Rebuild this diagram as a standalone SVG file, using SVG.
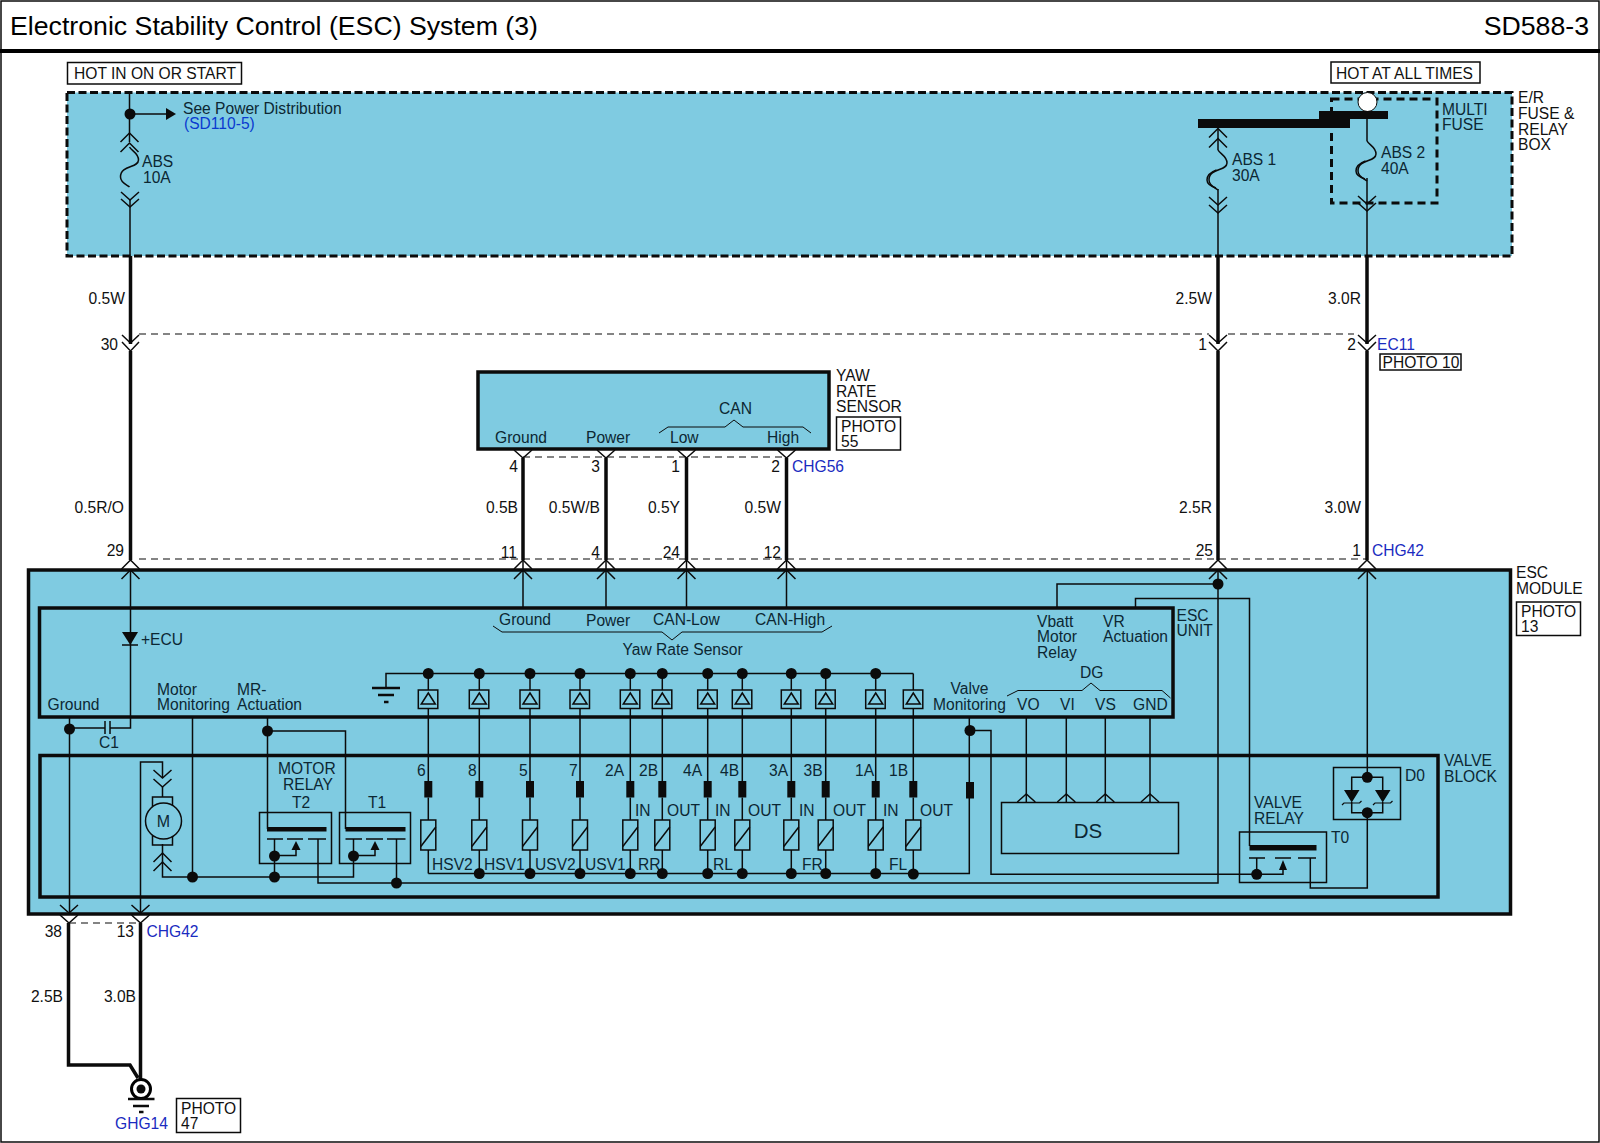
<svg xmlns="http://www.w3.org/2000/svg" xmlns:xlink="http://www.w3.org/1999/xlink" width="1600" height="1143" viewBox="0 0 1600 1143">
<style>
text{font-family:"Liberation Sans",Arial,sans-serif;font-size:15.6px;fill:#111}
.r{text-anchor:end}
.m{text-anchor:middle}
.b{fill:#1a2bc0}
.d{fill:#0c2733}
.t{font-size:26.7px;fill:#000}
.l,.bx,.th,.hv,.ds,.bk{fill:none;stroke:#0b0b0b;stroke-linejoin:miter}
.l{stroke-width:1.5}
.bx{stroke-width:1.5}
.th{stroke-width:4}
.hv{stroke-width:3.5;fill:#7fcbe1}
.ds{stroke-width:1.2;stroke-dasharray:7 5}
.bk{stroke-width:3;stroke-dasharray:8 3.5}
.f{fill:#0b0b0b;stroke:none}
.wbox{fill:#fff;stroke:#0b0b0b;stroke-width:1.5}
</style>
<defs>
<circle id="dot" r="5.5" class="f"/>
<g id="sw">
<rect x="-10" y="690" width="19.5" height="18.5" class="bx"/>
<path d="M0,693 L7,704 L-7,704 Z" class="bx"/>
<path d="M0,673.5 V690 M0,708.5 V781 M0,797.5 V820 M0,850 V873.5" class="l"/>
<rect x="-4" y="781" width="8" height="16.5" class="f"/>
<rect x="-7.5" y="820" width="15" height="30" class="bx"/>
<path d="M-7.5,846.5 L7.5,827" class="l"/>
</g>
<path id="fuse" d="M0,0 C2,4 9,6 9,13 C9,21 -9,18 -9,30 C-9,36 -2,38 0,40" class="l"/>
<path id="fuse2" d="M-1.5,20 C-7,22 -11,25 -11,30 C-11,35 -5,37 -2,38" class="l"/>
<path id="up" d="M-9,9 L0,0 L9,9 M-9,19 L0,10 L9,19" class="l"/>
<path id="tr" d="M-4.5,9 L0,0 L4.5,9 Z" class="f"/>
</defs>

<g id="frame">
<rect x="1" y="1" width="1598" height="1141" fill="#fff" stroke="#0b0b0b" stroke-width="1.5"/>
<path d="M0,51 H1600" stroke="#000" stroke-width="4" fill="none"/>
<text x="10" y="35" class="t">Electronic Stability Control (ESC) System (3)</text>
<text x="1589" y="35" class="t r">SD588-3</text>
</g>

<g id="hot-in-on-or-start">
<rect x="67.5" y="62.5" width="174" height="21.5" class="wbox"/>
<text x="74" y="78.5">HOT IN ON OR START</text>
</g>
<g id="hot-at-all-times">
<rect x="1331" y="62" width="149" height="21" class="wbox"/>
<text x="1336" y="78.5">HOT AT ALL TIMES</text>
</g>

<g id="er-fuse-relay-box">
<rect x="67" y="92.5" width="1445" height="163.5" class="bk" style="fill:#7fcbe1"/>
<text x="1518" y="103">E/R</text>
<text x="1518" y="119">FUSE &amp;</text>
<text x="1518" y="135">RELAY</text>
<text x="1518" y="150">BOX</text>
</g>
<g id="multi-fuse">
<rect x="1331.5" y="99" width="105.5" height="104" class="bk" style="stroke-dasharray:8 5"/>
<text x="1442" y="115" class="d">MULTI</text>
<text x="1442" y="130" class="d">FUSE</text>
</g>

<g id="yaw-rate-sensor">
<rect x="478" y="372" width="351" height="77" class="hv"/>
<text x="495" y="443" class="d">Ground</text>
<text x="586" y="443" class="d">Power</text>
<text x="670" y="443" class="d">Low</text>
<text x="767" y="443" class="d">High</text>
<text x="719" y="414" class="d">CAN</text>
<path d="M659,433 L668,427 H725 L734,420 L743,427 H803 L811,433" class="l" style="stroke-width:1"/>
<text x="836" y="381">YAW</text>
<text x="836" y="396.5">RATE</text>
<text x="836" y="412">SENSOR</text>
<rect x="836.5" y="417" width="64" height="33" class="wbox"/>
<text x="841" y="432">PHOTO</text>
<text x="841" y="447">55</text>
</g>

<g id="esc-module">
<rect x="28.5" y="570" width="1482" height="344" class="hv"/>
<text x="1516" y="578">ESC</text>
<text x="1516" y="594">MODULE</text>
<rect x="1516.5" y="602" width="64" height="33.5" class="wbox"/>
<text x="1521" y="617">PHOTO</text>
<text x="1521" y="632">13</text>
</g>

<g id="esc-unit">
<rect x="39.5" y="608" width="1133.5" height="109" class="hv"/>
<text x="1176.5" y="621" class="d">ESC</text>
<text x="1176.5" y="636" class="d">UNIT</text>
<text x="47.5" y="710" class="d">Ground</text>
<text x="141" y="645" class="d">+ECU</text>
<text x="157" y="695" class="d">Motor</text>
<text x="157" y="710" class="d">Monitoring</text>
<text x="237" y="695" class="d">MR-</text>
<text x="237" y="710" class="d">Actuation</text>
<text x="499" y="625" class="d">Ground</text>
<text x="586" y="626" class="d">Power</text>
<text x="653" y="625" class="d">CAN-Low</text>
<text x="755" y="625" class="d">CAN-High</text>
<path d="M493,626 L502,632 H662 L672,640 L682,632 H822 L832,626" class="l" style="stroke-width:1"/>
<text x="622.5" y="655" class="d">Yaw Rate Sensor</text>
<text x="1037" y="627" class="d">Vbatt</text>
<text x="1037" y="642" class="d">Motor</text>
<text x="1037" y="658" class="d">Relay</text>
<text x="1103" y="627" class="d">VR</text>
<text x="1103" y="642" class="d">Actuation</text>
<text x="1080" y="678" class="d">DG</text>
<path d="M1007,696 L1018,690.5 H1082 L1091,683 L1100,690.5 H1162 L1170.5,698" class="l" style="stroke-width:1"/>
<text x="950.5" y="694" class="d">Valve</text>
<text x="933" y="710" class="d">Monitoring</text>
<text x="1017" y="710" class="d">VO</text>
<text x="1060" y="710" class="d">VI</text>
<text x="1095" y="710" class="d">VS</text>
<text x="1133" y="710" class="d">GND</text>
</g>

<g id="valve-block">
<rect x="40" y="755.5" width="1398" height="141.5" class="hv" style="fill:none"/>
<text x="1444" y="766" class="d">VALVE</text>
<text x="1444" y="782" class="d">BLOCK</text>
</g>

<g id="connectors">
<path d="M129.5,92 V142 M130,200 V256 M1218,128.5 V150 M1218,189 V256 M1367,119 V141 M1367,178 V256" class="l"/>
<path d="M130.5,256 V344 M130.5,351 V560 M1218,256 V344 M1218,351 V560 M1367,256 V344 M1367,351 V560" class="l" style="stroke-width:3.5"/>
<path d="M130,114 H166" class="l"/>
<path d="M166,108 L176,114 L166,120 Z" class="f"/>
<path d="M139,334 H1209 M1228,334 H1354" class="ds"/>
<path d="M139,559 H1367" class="ds"/>
<path d="M523,457 H787" class="ds"/>
<path d="M69,923 H140" class="ds"/>
<path d="M523,458 V560 M606,458 V560 M686.5,458 V560 M786.5,458 V560" class="l" style="stroke-width:3.5"/>
<path d="M514,450 L523,458 L532,450 M597,450 L606,458 L615,450 M677.5,450 L686.5,458 L695.5,450 M777.5,450 L786.5,458 L795.5,450" class="l"/>
<path d="M523,560 V608 M606,560 V608 M686.5,560 V608 M786.5,560 V608" class="l"/>
<use href="#up" x="130.5" y="560"/><use href="#up" x="523" y="560"/><use href="#up" x="606" y="560"/><use href="#up" x="686.5" y="560"/><use href="#up" x="786.5" y="560"/><use href="#up" x="1218" y="560"/><use href="#up" x="1367" y="560"/>
<path d="M122,335 L130.5,343 L139,335 M122,342 L130.5,351 L139,342 M1209,335 L1218,343 L1227,335 M1209,342 L1218,351 L1227,342 M1358,335 L1367,343 L1376,335 M1358,342 L1367,351 L1376,342" class="l"/>
<use href="#up" x="129.5" y="133"/>
<use href="#fuse" x="129.5" y="147"/>
<path d="M121,192 L130,200 L139,192 M121,199 L130,207 L139,199" class="l"/>
<use href="#up" x="1218" y="128.5"/>
<use href="#fuse" x="1218" y="150"/><use href="#fuse2" x="1218" y="150"/>
<path d="M1209,197 L1218,205 L1227,197 M1209,205 L1218,213 L1227,205" class="l"/>
<use href="#fuse" x="1367" y="141"/><use href="#fuse2" x="1367" y="141"/>
<path d="M1358,196 L1367,204 L1376,196 M1358,203 L1367,211 L1376,203" class="l"/>
<path d="M130.5,570 V728 H110 M105,728 H69.5" class="l"/>
<path d="M69.5,717 V914" class="l"/>
<path d="M192.5,717 V877" class="l"/>
<path d="M267.5,717 V829 M267.5,731 H345.5 V829" class="l"/>
<path d="M140.5,914 V762 H162.5 V778 M162.5,787 V797 M162.5,844 V877 H353.5 V839" class="l"/>
<path d="M318,839 V883 H1218 V570" class="l"/>
<path d="M396.5,839 V883" class="l"/>
<path d="M274.5,839 V877" class="l"/>
<path d="M274.5,855.5 H296 V849 M353.5,855.5 H375 V849" class="l"/>
<path d="M386,688 V673.5 H913.3" class="l"/>
<path d="M428.3,873.5 H969.3 V717" class="l"/>
<path d="M969.3,730.5 H991 V874.3 H1283 V870" class="l"/>
<path d="M1026.3,717 V802 M1066.3,717 V802 M1105.3,717 V802 M1150,717 V802" class="l"/>
<path d="M1218,584 H1057 V608" class="l"/>
<path d="M1135.5,608 V598.5 H1249.5 V846" class="l"/>
<path d="M1367.3,570 V777.3 M1367.3,812.7 V888 H1310.3 V858" class="l"/>
<path d="M1256.7,858 V874.3" class="l"/>
<path d="M60,905 L69,913 L78,905 M60,915 L69,923 L78,915 M131.5,905 L140.5,913 L149.5,905 M131.5,915 L140.5,923 L149.5,915" class="l"/>
<path d="M68.5,923 V1065 H130 L138,1078 M140.5,923 V1079" class="l" style="stroke-width:3.5"/>
</g>

<g id="junctions">
<use href="#dot" x="130" y="114"/>
<use href="#dot" x="69.5" y="729"/>
<use href="#dot" x="267.5" y="731"/>
<use href="#dot" x="192.5" y="877"/>
<use href="#dot" x="274.5" y="877"/>
<use href="#dot" x="274.5" y="856"/>
<use href="#dot" x="353.5" y="856"/>
<use href="#dot" x="396.5" y="883"/>
<use href="#dot" x="970" y="730.5"/>
<use href="#dot" x="1218" y="584"/>
<use href="#dot" x="1256.7" y="874.3"/>
<use href="#dot" x="1367.3" y="777.3"/>
<use href="#dot" x="1367.3" y="812.7"/>
</g>

<g id="busbars">
<circle cx="1367.5" cy="102" r="9.5" fill="#fff" stroke="#0b0b0b" stroke-width="1"/>
<rect x="1319" y="111" width="69" height="8" class="f"/>
<rect x="1198" y="119" width="152" height="9" class="f"/>
<text x="183" y="114" class="d">See Power Distribution</text>
<text x="184" y="129" style="fill:#0a3ad0">(SD110-5)</text>
<text x="142" y="167" class="d">ABS</text>
<text x="143" y="183" class="d">10A</text>
<text x="1232" y="165" class="d">ABS 1</text>
<text x="1232" y="181" class="d">30A</text>
<text x="1381" y="158" class="d">ABS 2</text>
<text x="1381" y="174" class="d">40A</text>
</g>

<g id="wire-labels">
<text x="125" y="304" class="r">0.5W</text>
<text x="1212" y="304" class="r">2.5W</text>
<text x="1361" y="304" class="r">3.0R</text>
<text x="118" y="350" class="r">30</text>
<text x="1207" y="350" class="r">1</text>
<text x="1356" y="350" class="r">2</text>
<text x="1377" y="350" class="b">EC11</text>
<rect x="1380" y="354" width="81" height="16" class="wbox"/>
<text x="1382.5" y="368">PHOTO 10</text>
<text x="518" y="472" class="r">4</text>
<text x="600" y="472" class="r">3</text>
<text x="680" y="472" class="r">1</text>
<text x="780" y="472" class="r">2</text>
<text x="792" y="472" class="b">CHG56</text>
<text x="124" y="513" class="r">0.5R/O</text>
<text x="518" y="513" class="r">0.5B</text>
<text x="600" y="513" class="r">0.5W/B</text>
<text x="680" y="513" class="r">0.5Y</text>
<text x="781" y="513" class="r">0.5W</text>
<text x="1212" y="513" class="r">2.5R</text>
<text x="1361" y="513" class="r">3.0W</text>
<text x="124" y="556" class="r">29</text>
<text x="517" y="558" class="r">11</text>
<text x="600" y="558" class="r">4</text>
<text x="680" y="558" class="r">24</text>
<text x="781" y="558" class="r">12</text>
<text x="1213" y="556" class="r">25</text>
<text x="1361" y="556" class="r">1</text>
<text x="1372" y="556" class="b">CHG42</text>
<text x="62" y="937" class="r">38</text>
<text x="134" y="937" class="r">13</text>
<text x="146.5" y="937" class="b">CHG42</text>
<text x="63" y="1002" class="r">2.5B</text>
<text x="136" y="1002" class="r">3.0B</text>
</g>

<g id="diode-ecu">
<path d="M122,632 H138 L130.3,645 Z" class="f"/>
<path d="M122,645 H138" class="l"/>
</g>
<g id="capacitor-c1">
<path d="M105,721 V734 M110,721 V734" class="l"/>
<text x="99" y="748" class="d">C1</text>
</g>
<g id="motor">
<path d="M162.5,778 m-9,-8 l9,8 l9,-8 M162.5,787 m-9,-8 l9,8 l9,-8" class="l"/>
<rect x="152.5" y="797" width="20" height="48" class="bx"/>
<circle cx="163.5" cy="821" r="18" fill="#7fcbe1" stroke="#0b0b0b" stroke-width="1.5"/>
<text x="163.5" y="827" class="m d" style="font-size:16px">M</text>
<path d="M153.5,862 L162.5,853 L171.5,862 M153.5,871 L162.5,862 L171.5,871" class="l"/>
</g>
<g id="motor-relay-t2">
<rect x="259.5" y="812.5" width="72" height="51" class="bx"/>
<rect x="267" y="827" width="59.5" height="4.5" class="f"/>
<path d="M267,839 H283 M287,839 H303 M308,839 H326" class="l"/>
<use href="#tr" x="296" y="841"/>
<text x="278" y="774" class="d">MOTOR</text>
<text x="283" y="790" class="d">RELAY</text>
<text x="292" y="808" class="d">T2</text>
</g>
<g id="motor-relay-t1">
<rect x="339.5" y="812.5" width="71" height="51" class="bx"/>
<rect x="345.5" y="827" width="60" height="4.5" class="f"/>
<path d="M345.5,839 H362 M366,839 H383 M387,839 H405.5" class="l"/>
<use href="#tr" x="375" y="841"/>
<text x="368" y="808" class="d">T1</text>
</g>
<g id="esc-ground">
<path d="M372,688 H400" class="l" style="stroke-width:2.5"/>
<path d="M378,695 H394" class="l" style="stroke-width:2.5"/>
<path d="M384,702 H388.5" class="l" style="stroke-width:2.5"/>
</g>

<g id="valves">
<g id="valve-6"><use href="#sw" x="428.3"/><text x="417" y="776" class="d">6</text><text x="432" y="870" class="d">HSV2</text></g>
<g id="valve-8"><use href="#sw" x="479.3"/><use href="#dot" x="479.3" y="873.5"/><text x="468" y="776" class="d">8</text><text x="484" y="870" class="d">HSV1</text></g>
<g id="valve-5"><use href="#sw" x="530"/><use href="#dot" x="530" y="873.5"/><text x="519" y="776" class="d">5</text><text x="535" y="870" class="d">USV2</text></g>
<g id="valve-7"><use href="#sw" x="580"/><use href="#dot" x="580" y="873.5"/><text x="569" y="776" class="d">7</text><text x="585" y="870" class="d">USV1</text></g>
<g id="valve-2a"><use href="#sw" x="630.3"/><use href="#dot" x="630.3" y="873.5"/><text x="605" y="776" class="d">2A</text><text x="635" y="816" class="d">IN</text><text x="638" y="870" class="d">RR</text></g>
<g id="valve-2b"><use href="#sw" x="662.3"/><use href="#dot" x="662.3" y="873.5"/><text x="639" y="776" class="d">2B</text><text x="667" y="816" class="d">OUT</text></g>
<g id="valve-4a"><use href="#sw" x="707.7"/><use href="#dot" x="707.7" y="873.5"/><text x="683" y="776" class="d">4A</text><text x="715" y="816" class="d">IN</text><text x="713" y="870" class="d">RL</text></g>
<g id="valve-4b"><use href="#sw" x="742.3"/><use href="#dot" x="742.3" y="873.5"/><text x="720" y="776" class="d">4B</text><text x="748" y="816" class="d">OUT</text></g>
<g id="valve-3a"><use href="#sw" x="791.3"/><use href="#dot" x="791.3" y="873.5"/><text x="769" y="776" class="d">3A</text><text x="799" y="816" class="d">IN</text><text x="802" y="870" class="d">FR</text></g>
<g id="valve-3b"><use href="#sw" x="825.7"/><use href="#dot" x="825.7" y="873.5"/><text x="803.5" y="776" class="d">3B</text><text x="833" y="816" class="d">OUT</text></g>
<g id="valve-1a"><use href="#sw" x="875.7"/><use href="#dot" x="875.7" y="873.5"/><text x="855" y="776" class="d">1A</text><text x="883" y="816" class="d">IN</text><text x="889" y="870" class="d">FL</text></g>
<g id="valve-1b"><use href="#sw" x="913.3"/><use href="#dot" x="913.3" y="874"/><text x="889" y="776" class="d">1B</text><text x="920" y="816" class="d">OUT</text></g>
<use href="#dot" x="428.3" y="673.5"/><use href="#dot" x="479.3" y="673.5"/><use href="#dot" x="530" y="673.5"/><use href="#dot" x="580" y="673.5"/><use href="#dot" x="630.3" y="673.5"/><use href="#dot" x="662.3" y="673.5"/><use href="#dot" x="707.7" y="673.5"/><use href="#dot" x="742.3" y="673.5"/><use href="#dot" x="791.3" y="673.5"/><use href="#dot" x="825.7" y="673.5"/><use href="#dot" x="875.7" y="673.5"/>
<rect x="966" y="782" width="8" height="16.5" class="f"/>
</g>

<g id="ds">
<rect x="1001.5" y="802.5" width="177" height="51" class="bx"/>
<path d="M1017.3,802 L1026.3,794 L1035.3,802 M1057.3,802 L1066.3,794 L1075.3,802 M1096.3,802 L1105.3,794 L1114.3,802 M1141,802 L1150,794 L1159,802" class="l"/>
<text x="1088" y="838" class="m d" style="font-size:20.5px">DS</text>
</g>

<g id="valve-relay">
<rect x="1239.5" y="832" width="87" height="50.5" class="bx"/>
<rect x="1249.5" y="845" width="67" height="5.5" class="f"/>
<path d="M1249,858 H1265 M1275,858 H1291 M1298,858 H1316" class="l"/>
<path d="M1279,870 L1283,860 L1287,870 Z" class="f"/>
<text x="1254" y="808" class="d">VALVE</text>
<text x="1254" y="823.5" class="d">RELAY</text>
<text x="1331" y="843" class="d">T0</text>
</g>

<g id="d0">
<rect x="1333.5" y="767.5" width="67" height="52" class="bx"/>
<path d="M1351.7,790 V777.3 H1382.7 V790 M1351.7,802 V812.7 H1382.7 V802" class="l"/>
<path d="M1344,790 H1359.5 L1351.7,802.5 Z M1375,790 H1390.5 L1382.7,802.5 Z" class="f"/>
<path d="M1342,805 L1344,803 H1359.5 L1361.5,801 M1373,805 L1375,803 H1390.5 L1392.5,801" class="l" style="stroke-width:1.2"/>
<text x="1405" y="781" class="d">D0</text>
</g>

<g id="ground-ghg14">
<circle cx="141" cy="1089" r="9.5" fill="#fff" stroke="#000" stroke-width="3"/>
<circle cx="141" cy="1089" r="4.5" class="f"/>
<path d="M128,1099 H154.5 M133,1106 H149 M139,1112 H143.5" class="l" style="stroke-width:2.5"/>
<text x="115" y="1129" class="b">GHG14</text>
<rect x="176.5" y="1098.5" width="64" height="34" class="wbox"/>
<text x="181" y="1114">PHOTO</text>
<text x="181" y="1129">47</text>
</g>
</svg>
